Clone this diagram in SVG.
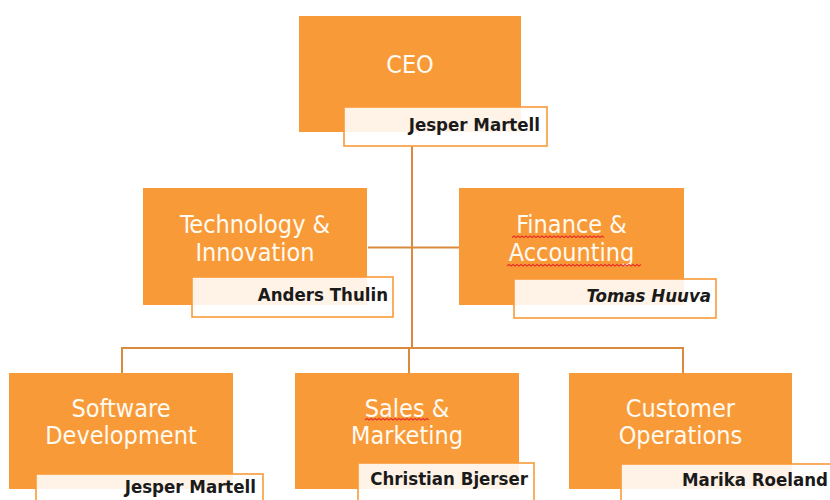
<svg xmlns="http://www.w3.org/2000/svg" width="830" height="500" viewBox="0 0 830 500">
<style>
.box{fill:#f99a38}
.tag{fill:#ffffff;fill-opacity:0.88;stroke:#f99a38;stroke-width:1.6}
.title{font-family:"DejaVu Sans Condensed","DejaVu Sans",sans-serif;font-stretch:condensed;font-size:25px;fill:#fffaf2;text-anchor:middle}
.name{font-family:"DejaVu Sans Condensed","DejaVu Sans",sans-serif;font-stretch:condensed;font-size:18.5px;font-weight:bold;fill:#1a1a1a;text-anchor:end}
.conn{fill:none;stroke:#d98a3c;stroke-width:2}
.squig{fill:none;stroke:#e8312a;stroke-width:1.1}
</style>
<rect width="830" height="500" fill="#ffffff"/>
<g id="connectors">
<path class="conn" d="M412,146 V348"/>
<path class="conn" d="M368,247.5 H459"/>
<path class="conn" d="M122,373 V348 H683 V373"/>
<path class="conn" d="M409,348 V373"/>
</g>
<g id="ceo">
<rect class="box" x="299" y="16" width="222" height="116"/>
<text class="title" x="410" y="73">CEO</text>
<rect class="tag" x="344" y="107" width="203" height="39"/>
<text class="name" x="540" y="131">Jesper Martell</text>
</g>
<g id="tech">
<rect class="box" x="143" y="188" width="224" height="117"/>
<text class="title" x="255" y="233">Technology &amp;</text>
<text class="title" x="255" y="261">Innovation</text>
<rect class="tag" x="192" y="277" width="201" height="40"/>
<text class="name" x="388" y="301">Anders Thulin</text>
</g>
<g id="finance">
<rect class="box" x="459" y="188" width="225" height="117"/>
<text class="title" x="571.5" y="233">Finance &amp;</text>
<text class="title" x="571.5" y="261">Accounting</text>
<rect class="tag" x="514" y="279" width="202" height="39"/>
<text class="name" x="711" y="302" font-style="italic">Tomas Huuva</text>
</g>
<g id="software">
<rect class="box" x="9" y="373" width="224" height="116"/>
<text class="title" x="121" y="417">Software</text>
<text class="title" x="121" y="444">Development</text>
<rect class="tag" x="36" y="474" width="227" height="40"/>
<text class="name" x="256" y="493">Jesper Martell</text>
</g>
<g id="sales">
<rect class="box" x="295" y="373" width="224" height="116"/>
<text class="title" x="407" y="417">Sales &amp;</text>
<text class="title" x="407" y="444">Marketing</text>
<rect class="tag" x="358" y="463" width="176" height="40"/>
<text class="name" x="528" y="485">Christian Bjerser</text>
</g>
<g id="customer">
<rect class="box" x="569" y="373" width="223" height="116"/>
<text class="title" x="680.5" y="417">Customer</text>
<text class="title" x="680.5" y="444">Operations</text>
<rect class="tag" x="621" y="464" width="220" height="40"/>
<text class="name" x="828" y="486">Marika Roeland</text>
</g>
<g id="spellcheck">
<path class="squig" d="M512,237.5 l2,-1.5 l2,1.5 l2,-1.5 l2,1.5 l2,-1.5 l2,1.5 l2,-1.5 l2,1.5 l2,-1.5 l2,1.5 l2,-1.5 l2,1.5 l2,-1.5 l2,1.5 l2,-1.5 l2,1.5 l2,-1.5 l2,1.5 l2,-1.5 l2,1.5 l2,-1.5 l2,1.5 l2,-1.5 l2,1.5 l2,-1.5 l2,1.5 l2,-1.5 l2,1.5 l2,-1.5 l2,1.5 l2,-1.5 l2,1.5 l2,-1.5 l2,1.5 l2,-1.5 l2,1.5 l2,-1.5 l2,1.5 l2,-1.5 l2,1.5 l2,-1.5 l2,1.5 l2,-1.5 l2,1.5 l2,-1.5 l2,1.5"/>
<path class="squig" d="M507,266 l2,-1.5 l2,1.5 l2,-1.5 l2,1.5 l2,-1.5 l2,1.5 l2,-1.5 l2,1.5 l2,-1.5 l2,1.5 l2,-1.5 l2,1.5 l2,-1.5 l2,1.5 l2,-1.5 l2,1.5 l2,-1.5 l2,1.5 l2,-1.5 l2,1.5 l2,-1.5 l2,1.5 l2,-1.5 l2,1.5 l2,-1.5 l2,1.5 l2,-1.5 l2,1.5 l2,-1.5 l2,1.5 l2,-1.5 l2,1.5 l2,-1.5 l2,1.5 l2,-1.5 l2,1.5 l2,-1.5 l2,1.5 l2,-1.5 l2,1.5 l2,-1.5 l2,1.5 l2,-1.5 l2,1.5 l2,-1.5 l2,1.5 l2,-1.5 l2,1.5 l2,-1.5 l2,1.5 l2,-1.5 l2,1.5 l2,-1.5 l2,1.5 l2,-1.5 l2,1.5 l2,-1.5 l2,1.5 l2,-1.5 l2,1.5 l2,-1.5 l2,1.5 l2,-1.5 l2,1.5 l2,-1.5 l2,1.5 l2,-1.5"/>
<path class="squig" d="M365,420 l2,-1.5 l2,1.5 l2,-1.5 l2,1.5 l2,-1.5 l2,1.5 l2,-1.5 l2,1.5 l2,-1.5 l2,1.5 l2,-1.5 l2,1.5 l2,-1.5 l2,1.5 l2,-1.5 l2,1.5 l2,-1.5 l2,1.5 l2,-1.5 l2,1.5 l2,-1.5 l2,1.5 l2,-1.5 l2,1.5 l2,-1.5 l2,1.5 l2,-1.5 l2,1.5 l2,-1.5 l2,1.5 l2,-1.5 l2,1.5"/>
</g>
</svg>
